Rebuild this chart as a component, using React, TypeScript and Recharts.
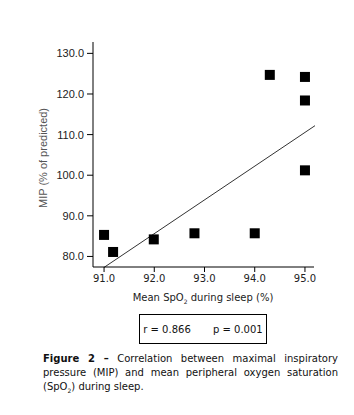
import React from 'react';
import { ComposedChart, Scatter, XAxis, YAxis, ReferenceLine } from 'recharts';

// Mean SpO2 during sleep (%) vs MIP (% of predicted)
const spo2 = [91.0, 91.18, 91.99, 92.8, 94.0, 94.3, 95.0, 95.0, 95.0];
const mip = [85.3, 81.1, 84.2, 85.7, 85.7, 124.7, 124.2, 118.4, 101.2];

// regression line end points
const fitX = [91.0, 95.2];
const fitY = [77.3, 112.2];

const xTicks = [91, 92, 93, 94, 95];
const yTicks = [80, 90, 100, 110, 120, 130];

const points = spo2.map((x, i) => ({ x, y: mip[i] }));

const Square = (props: any) => {
  const { cx, cy } = props;
  return <rect x={cx - 5} y={cy - 5} width={10} height={10} fill="#000" />;
};

const Sub = ({ children }: { children: React.ReactNode }) => (
  <span style={{ fontSize: 6, verticalAlign: 'sub', lineHeight: '6px' }}>{children}</span>
);

const captionLine: React.CSSProperties = { textAlign: 'justify', textAlignLast: 'justify', whiteSpace: 'nowrap' };

const App: React.FC = () => {
  return (
    <div style={{ position: 'absolute', left: 0, top: 0, width: 354, height: 415, background: '#fff' }}>
      <ComposedChart
        width={354}
        height={300}
        data={points}
        margin={{ top: 42, right: 40, left: 33, bottom: 3 }}
      >
        <XAxis
          type="number"
          dataKey="x"
          domain={[90.78, 95.18]}
          ticks={xTicks}
          tickFormatter={(v: number) => v.toFixed(1)}
          allowDataOverflow
          height={30}
          tickSize={5}
          tickMargin={3}
          stroke="#000"
          tick={{ fill: '#222', fontSize: 10, fontFamily: 'DejaVu Sans' }}
        />
        <YAxis
          type="number"
          dataKey="y"
          domain={[77.4, 132.8]}
          ticks={yTicks}
          tickFormatter={(v: number) => v.toFixed(1)}
          allowDataOverflow
          width={60}
          tickSize={6}
          tickMargin={3}
          stroke="#000"
          tick={{ fill: '#222', fontSize: 11, fontFamily: 'Liberation Sans' }}
        />
        <ReferenceLine
          segment={[{ x: fitX[0], y: fitY[0] }, { x: fitX[1], y: fitY[1] }]}
          stroke="#333"
          strokeWidth={1}
          ifOverflow="visible"
        />
        <Scatter dataKey="y" shape={Square} isAnimationActive={false} />
      </ComposedChart>

      <div
        style={{
          position: 'absolute', left: 43, top: 158, transform: 'translate(-50%, -50%) rotate(-90deg)',
          whiteSpace: 'nowrap', fontFamily: 'Liberation Sans', fontSize: 11, color: '#555'
        }}
      >
        MIP (% of predicted)
      </div>

      <div
        style={{
          position: 'absolute', left: 203, top: 298, transform: 'translate(-50%, -50%)',
          whiteSpace: 'nowrap', fontFamily: 'DejaVu Sans', fontSize: 10, color: '#222'
        }}
      >
        Mean SpO<Sub>2</Sub> during sleep (%)
      </div>

      <div
        style={{
          position: 'absolute', left: 139, top: 314, width: 126, height: 28, border: '1px solid #000',
          display: 'flex', alignItems: 'center', justifyContent: 'center',
          fontFamily: 'DejaVu Sans', fontSize: 10, color: '#111', whiteSpace: 'pre'
        }}
      >
        r = 0.866       p = 0.001
      </div>

      <div
        style={{
          position: 'absolute', left: 43, top: 352, width: 295,
          fontFamily: 'DejaVu Sans', fontSize: 10, lineHeight: '14px', color: '#111'
        }}
      >
        <div style={captionLine}>
          <span style={{ fontWeight: 'bold' }}>Figure 2 –</span> Correlation between maximal inspiratory
        </div>
        <div style={captionLine}>pressure (MIP) and mean peripheral oxygen saturation</div>
        <div>(SpO<Sub>2</Sub>) during sleep.</div>
      </div>
    </div>
  );
};

export default App;
